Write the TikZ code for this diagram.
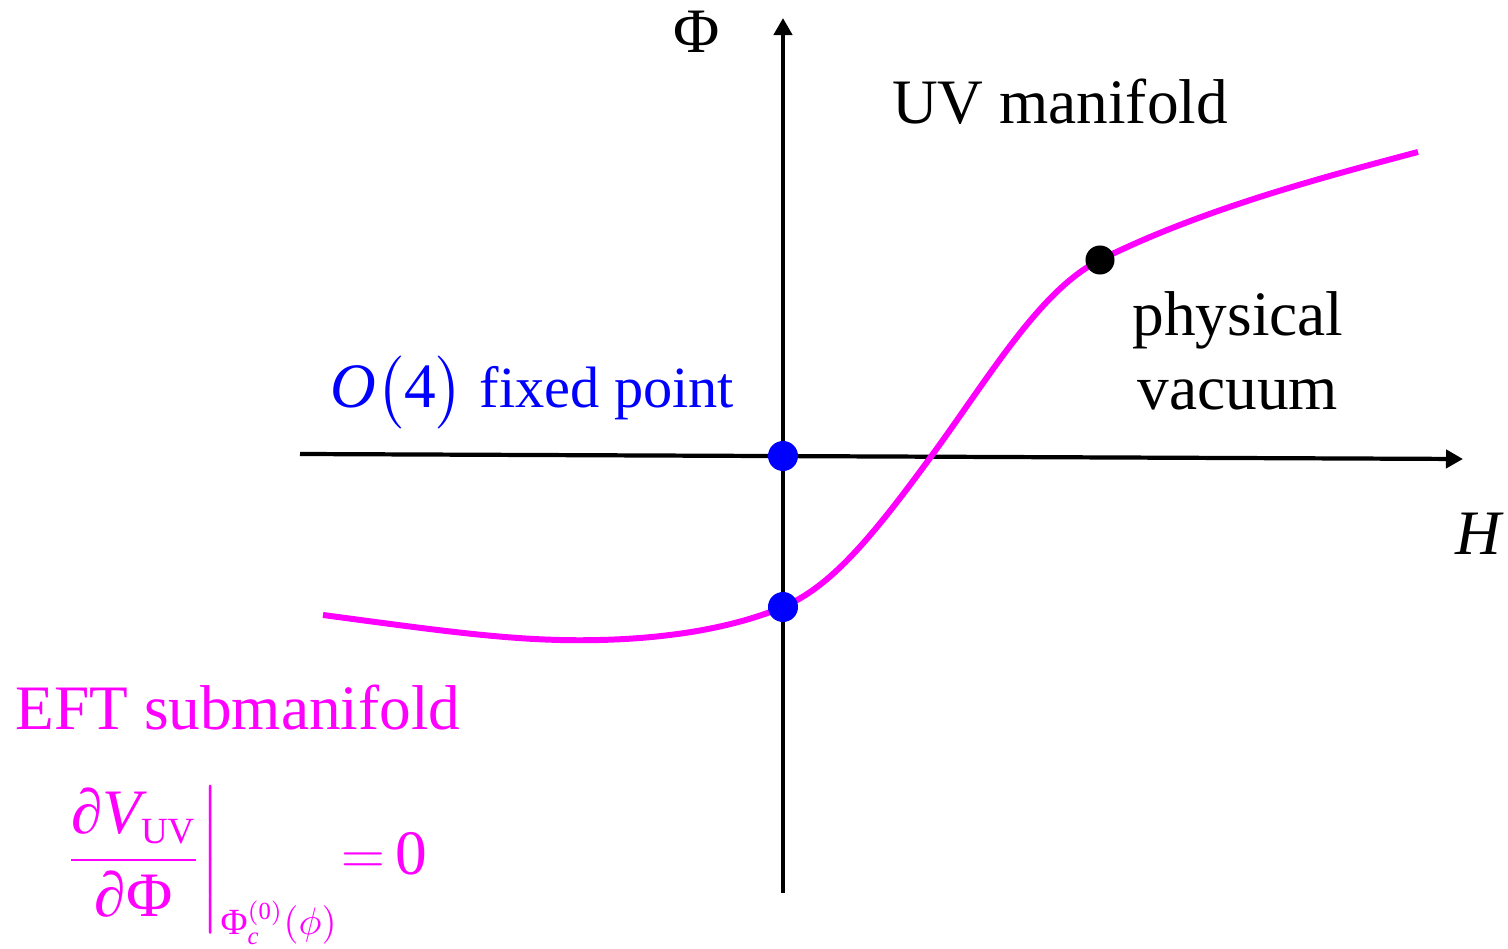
\documentclass[tikz,border=0pt]{standalone}
\usepackage{amsmath}
\usepackage{fontspec}
\setmainfont{Liberation Serif}
\usetikzlibrary{arrows.meta}
\DeclareMathSizes{18}{18}{10.5}{7}
\definecolor{eftmagenta}{RGB}{255,0,255}
\definecolor{fixblue}{RGB}{0,0,255}
\tikzset{
  axisline/.style={-{Triangle[length=1.7mm, width=1.8mm]}, line width=1.2pt},
  flowcurve/.style={eftmagenta, line width=1.7pt},
  bluedot/.style={circle, fill=fixblue, inner sep=0pt, minimum size=3mm},
  blackdot/.style={circle, fill=black, inner sep=0pt, minimum size=2.9mm},
  biglabel/.style={font=\fontsize{18}{21.3}\selectfont, inner sep=0pt}
}

\begin{document}
\begin{tikzpicture}[x=0.01cm, y=-0.01cm]
  \useasboundingbox (0,0) rectangle (1508,949);
  % axes
  \coordinate (hstart) at (300,454);
  \coordinate (hend) at (1463,459);
  \coordinate (vstart) at (783,893);
  \coordinate (vend) at (783,18);
  \draw[axisline] (hstart) -- (hend);
  \draw[axisline] (vstart) -- (vend);
  % EFT submanifold curve
  \coordinate (cstart) at (323,615);
  \coordinate (cmin) at (600,640);
  \coordinate (ccross) at (783,607);
  \coordinate (cinfl) at (930,458);
  \coordinate (cvac) at (1100,260);
  \coordinate (cend) at (1418,152);
  \draw[flowcurve] (cstart) .. controls (450,632) and (520,642) .. (cmin)
    .. controls (680,638) and (740,625) .. (ccross)
    .. controls (830,587) and (870,540) .. (cinfl)
    .. controls (990,376) and (1040,290) .. (cvac)
    .. controls (1200,210) and (1320,178) .. (cend);
  % points
  \node[bluedot] (fixpt) at (783,456) {};
  \node[bluedot] (eftpt) at (ccross) {};
  \node[blackdot] (vacpt) at (cvac) {};
  % labels
  \node[biglabel, anchor=base] (philabel) at (697,53) {Φ};
  \node[biglabel, anchor=base east] (hlabel) at (1505,555) {\textit{H}};
  \node[biglabel, anchor=base] (uvlabel) at (1060,124) {UV manifold};
  \node[biglabel, anchor=base, align=center] (vaclabel) at (1238,410) {physical\\vacuum};
  \node[biglabel, fixblue, anchor=base west] (fixlabel) at (330,408)
    {\textit{O}$\big($4$\big)$ {\fontsize{16.6}{20}\selectfont fixed point}};
  \node[biglabel, eftmagenta, anchor=base west] (eftlabel) at (15,730) {EFT submanifold};
  \node[biglabel, eftmagenta, anchor=base west] (eftcond) at (62,875)
    {$\displaystyle\left.\frac{\text{∂}\textit{V}_{\text{UV}}}{\text{∂Φ}}\right|_{\text{Φ}_{\textit{c}}^{(\text{0})}(\phi)}\mkern-4mu=\mkern-2mu\text{0}$};
\end{tikzpicture}
\end{document}
